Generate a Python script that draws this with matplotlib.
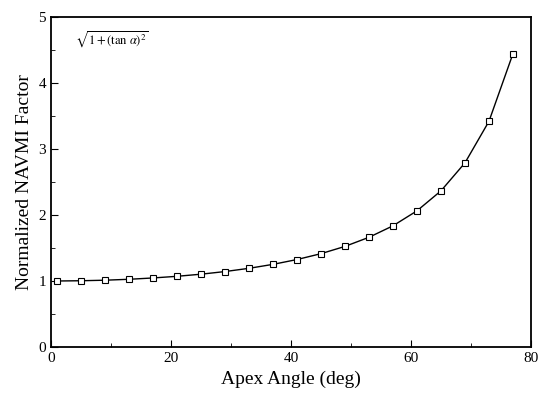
import numpy as np
import matplotlib.pyplot as plt

plt.rcParams['font.family'] = ['Liberation Serif', 'DejaVu Serif']
plt.rcParams['mathtext.fontset'] = 'stix'

# Apex angle (deg) and normalized factor
apex_angle = [1, 5, 9, 13, 17, 21, 25, 29, 33, 37, 41, 45, 49, 53, 57, 61, 65, 69, 73, 77]
navmi_factor = [1.000, 1.004, 1.012, 1.026, 1.046, 1.071, 1.103, 1.143, 1.192, 1.252,
                1.325, 1.414, 1.524, 1.662, 1.836, 2.063, 2.366, 2.790, 3.420, 4.445]

fig = plt.figure(figsize=(5.41, 3.95), dpi=100)
ax = fig.add_axes([0.094, 0.1215, 0.8875, 0.8355])

ax.plot(apex_angle, navmi_factor, color='black', lw=1.0,
        marker='s', markersize=5, markerfacecolor='white', markeredgecolor='black', markeredgewidth=0.8)

ax.set_xlim(0, 80)
ax.set_ylim(0, 5)
ax.set_xticks([0, 20, 40, 60, 80])
ax.set_xticks([10, 30, 50, 70], minor=True)
ax.set_yticks([0, 1, 2, 3, 4, 5])
ax.set_yticks([0.5, 1.5, 2.5, 3.5, 4.5], minor=True)
ax.tick_params(which='both', direction='in', labelsize=11)
ax.tick_params(which='major', length=5)
ax.tick_params(which='minor', length=3)
for s in ax.spines.values():
    s.set_linewidth(1.3)

ax.set_xlabel('Apex Angle (deg)', fontsize=14)
ax.set_ylabel('Normalized NAVMI Factor', fontsize=14)

ax.text(0.05, 0.93, r'$\sqrt{1+(\tan\,\alpha)^2}$', transform=ax.transAxes,
        fontsize=9, va='center', ha='left')

fig.savefig('out.png', dpi=100)
